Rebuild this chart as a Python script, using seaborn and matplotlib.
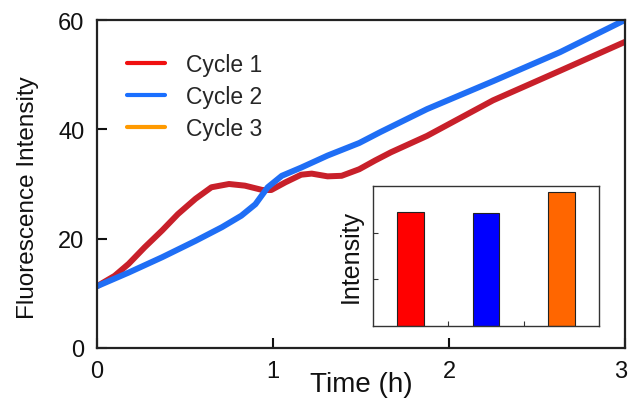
import matplotlib
matplotlib.use("Agg")
import matplotlib.pyplot as plt
import seaborn as sns
import pandas as pd
from matplotlib.lines import Line2D
from matplotlib.transforms import ScaledTranslation

# ---- data ----
cycle1_time = [0.00, 0.10, 0.18, 0.27, 0.37, 0.46, 0.56, 0.65, 0.75, 0.84, 0.94, 0.99,
               1.07, 1.16, 1.22, 1.31, 1.39, 1.49, 1.58, 1.67, 1.875, 2.25, 2.63, 3.00]
cycle1_signal = [11.3, 13.2, 15.4, 18.4, 21.5, 24.5, 27.3, 29.4, 30.0, 29.7, 28.9, 28.9,
                 30.3, 31.7, 31.9, 31.4, 31.5, 32.7, 34.3, 35.8, 38.8, 45.3, 50.7, 56.0]
cycle2_time = [0.00, 0.18, 0.37, 0.56, 0.71, 0.82, 0.90, 0.97, 1.05, 1.16, 1.31, 1.49,
               1.61, 1.875, 2.25, 2.63, 3.00]
cycle2_signal = [11.3, 13.8, 16.6, 19.6, 22.1, 24.2, 26.3, 29.4, 31.5, 33.0, 35.2, 37.5,
                 39.5, 43.7, 48.8, 54.1, 60.0]
series_labels = ["Cycle 1", "Cycle 2", "Cycle 3"]
inset_values = [2.45, 2.43, 2.87]
x_ticks = [0, 1, 2, 3]
y_ticks = [0, 20, 40, 60]

sns.set_theme(style="white")
plt.rcParams["font.family"] = ["Liberation Sans", "DejaVu Sans"]

fig = plt.figure(figsize=(6.3, 4.02), dpi=100)
W, H = 630, 402
ax = fig.add_axes([97 / W, 53 / H, 528 / W, 328 / H])

line_colors = ["#C8202A", "#1F6EF5"]
sns.lineplot(x=cycle1_time, y=cycle1_signal, color=line_colors[0], lw=4.3, ax=ax,
             sort=False, estimator=None)
sns.lineplot(x=cycle2_time, y=cycle2_signal, color=line_colors[1], lw=4.3, ax=ax,
             sort=False, estimator=None)
for ln in ax.lines:
    ln.set_solid_joinstyle("round")

ax.set_xlim(0, 3)
ax.set_ylim(0, 60)
ax.set_xticks(x_ticks)
ax.set_yticks(y_ticks)
ax.tick_params(direction="in", length=7, width=1.5, labelsize=17, pad=9,
               colors="#111111", left=True, bottom=True)
for s in ax.spines.values():
    s.set_linewidth(1.6)
    s.set_color("#222222")
# keep the last x tick label inside the figure, as in the reference
last = ax.get_xticklabels()[-1]
last.set_transform(last.get_transform() + ScaledTranslation(-3 / 72, 0, fig.dpi_scale_trans))

ax.set_xlabel("Time (h)", fontsize=20, color="#111111")
ax.xaxis.set_label_coords(0.5, -0.07)
ax.set_ylabel("Fluorescence Intensity", fontsize=17.5, color="#111111")
ax.yaxis.set_label_coords(-0.11, 0.46)

legend_colors = ["#F01010", "#1A6FFF", "#FF9A00"]
handles = [Line2D([], [], color=c, lw=3) for c in legend_colors]
ax.legend(handles, series_labels, loc="upper left", bbox_to_anchor=(0.057, 0.90),
          frameon=False, fontsize=16.5, handlelength=1.66, handletextpad=0.92,
          labelspacing=0.39, borderpad=0, borderaxespad=0)

# ---- inset bar chart ----
ax2 = fig.add_axes([373 / W, 75 / H, 226 / W, 140 / H])
df = pd.DataFrame({"cycle": series_labels, "value": inset_values})
sns.barplot(data=df, x="cycle", y="value", hue="cycle",
            palette=["#FF0000", "#0000FF", "#FF6600"], saturation=1, width=0.35,
            edgecolor="#222222", linewidth=0.8, ax=ax2, legend=False)
ax2.set_xlim(-0.5, 2.5)
ax2.set_ylim(0, 3)
ax2.set_xticks([0.5, 1.5])
ax2.set_xticklabels([])
ax2.set_yticks([1, 2])
ax2.set_yticklabels([])
ax2.tick_params(direction="in", length=3.5, width=0.8, colors="#333333",
                left=True, bottom=True)
ax2.set_xlabel("")
ax2.set_ylabel("Intensity", fontsize=18, labelpad=4, color="#111111")
for s in ax2.spines.values():
    s.set_linewidth(1.0)
    s.set_color("#333333")

fig.savefig("out.png", dpi=100)
